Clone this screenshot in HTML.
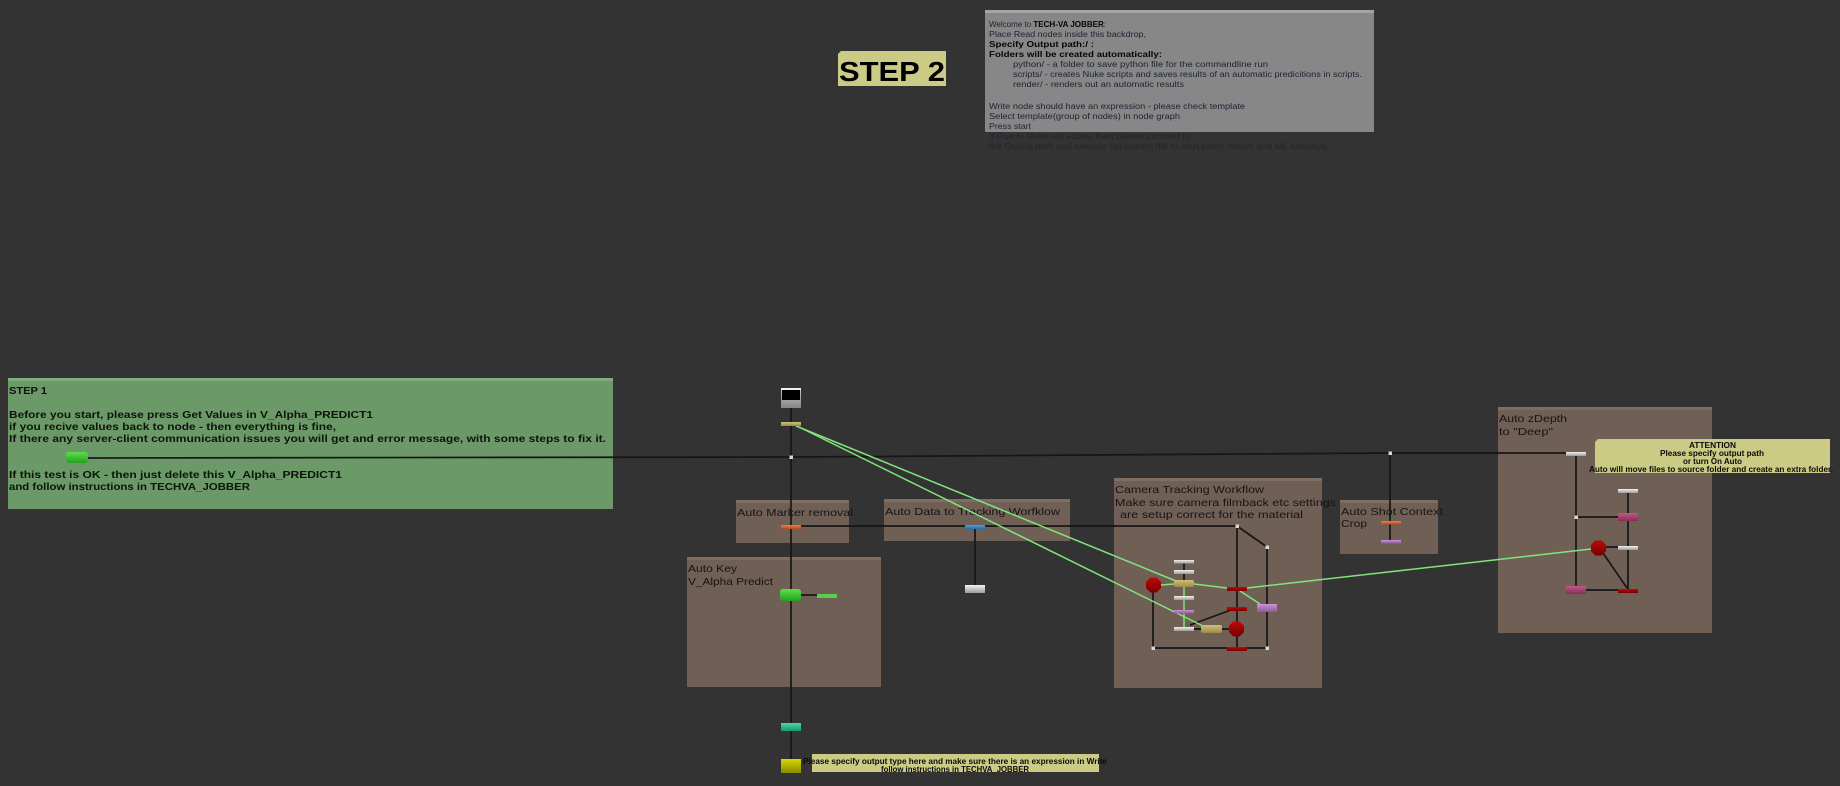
<!DOCTYPE html>
<html><head><meta charset="utf-8"><style>
html,body{margin:0;padding:0;background:#333333;}
svg{display:block;}
.lab{font-family:"Liberation Sans",sans-serif;font-size:10.5px;fill:#161412;}
.gb{font-family:"Liberation Sans",sans-serif;font-size:10.5px;font-weight:bold;fill:#0c140c;}
.gt{font-family:"Liberation Sans",sans-serif;font-size:8.6px;fill:#1c2232;}
.gtd{font-family:"Liberation Sans",sans-serif;font-size:8.6px;fill:#20252e;}
.gtb{font-family:"Liberation Sans",sans-serif;font-size:8.6px;font-weight:bold;fill:#050505;}
.st{font-family:"Liberation Sans",sans-serif;font-size:8px;font-weight:bold;fill:#0a0a0a;}
</style></head><body>
<svg width="1840" height="786" viewBox="0 0 1840 786" xmlns="http://www.w3.org/2000/svg">
<defs>
<linearGradient id="gW" x1="0" y1="0" x2="0" y2="1"><stop offset="0" stop-color="#f2f2f2"/><stop offset="1" stop-color="#9a9a9a"/></linearGradient>
<linearGradient id="gGray" x1="0" y1="0" x2="0" y2="1"><stop offset="0" stop-color="#c8c8c8"/><stop offset="1" stop-color="#858585"/></linearGradient>
<linearGradient id="gTan" x1="0" y1="0" x2="0" y2="1"><stop offset="0" stop-color="#d0c07a"/><stop offset="1" stop-color="#9a8a4a"/></linearGradient>
<linearGradient id="gOr" x1="0" y1="0" x2="0" y2="1"><stop offset="0" stop-color="#f08040"/><stop offset="1" stop-color="#b04c18"/></linearGradient>
<linearGradient id="gGr" x1="0" y1="0" x2="0" y2="1"><stop offset="0" stop-color="#5ce04c"/><stop offset="1" stop-color="#24a020"/></linearGradient>
<linearGradient id="gTeal" x1="0" y1="0" x2="0" y2="1"><stop offset="0" stop-color="#44d8a8"/><stop offset="1" stop-color="#1a9870"/></linearGradient>
<linearGradient id="gY" x1="0" y1="0" x2="0" y2="1"><stop offset="0" stop-color="#d8d800"/><stop offset="1" stop-color="#8a8a00"/></linearGradient>
<linearGradient id="gBl" x1="0" y1="0" x2="0" y2="1"><stop offset="0" stop-color="#4aa0e0"/><stop offset="1" stop-color="#2470b0"/></linearGradient>
<linearGradient id="gRed" x1="0" y1="0" x2="0" y2="1"><stop offset="0" stop-color="#c00808"/><stop offset="1" stop-color="#780000"/></linearGradient>
<linearGradient id="gPur" x1="0" y1="0" x2="0" y2="1"><stop offset="0" stop-color="#c896d8"/><stop offset="1" stop-color="#8a5a9a"/></linearGradient>
<linearGradient id="gPink" x1="0" y1="0" x2="0" y2="1"><stop offset="0" stop-color="#c05888"/><stop offset="1" stop-color="#8a2c58"/></linearGradient>
</defs>

<!-- backdrops -->
<rect x="8" y="378" width="605" height="131" fill="#6b9a68"/>
<rect x="8" y="378" width="605" height="3" fill="#80ad7c"/>

<rect x="985" y="10" width="389" height="122" fill="#878787"/>
<rect x="985" y="10" width="389" height="3" fill="#a4a4a4"/>

<rect x="736" y="500" width="113" height="43" fill="#6f5f54"/>
<rect x="736" y="500" width="113" height="3" fill="#7e6e62"/>
<rect x="884" y="499" width="186" height="42" fill="#6f5f54"/>
<rect x="884" y="499" width="186" height="3" fill="#7e6e62"/>
<rect x="687" y="557" width="194" height="130" fill="#6f5f54"/>
<rect x="687" y="557" width="194" height="3" fill="#7e6e62"/>
<rect x="1114" y="478" width="208" height="210" fill="#6f5f54"/>
<rect x="1114" y="478" width="208" height="3" fill="#7e6e62"/>
<rect x="1340" y="500" width="98" height="54" fill="#6f5f54"/>
<rect x="1340" y="500" width="98" height="3" fill="#7e6e62"/>
<rect x="1498" y="407" width="214" height="226" fill="#6f5f54"/>
<rect x="1498" y="407" width="214" height="3" fill="#7e6e62"/>

<!-- STEP 2 label -->
<polygon points="841,51 946,51 946,86 838,86 838,54" fill="#cbcb85"/>
<text x="839" y="81" font-family="Liberation Sans, sans-serif" font-size="28" font-weight="bold" fill="#000" textLength="106" lengthAdjust="spacingAndGlyphs">STEP 2</text>

<!-- gray box text -->
<text class="gt" x="989" y="27" textLength="117" lengthAdjust="spacingAndGlyphs">Welcome to <tspan class="gtb">TECH-VA JOBBER</tspan>:</text>
<text class="gt" x="989" y="37" textLength="157" lengthAdjust="spacingAndGlyphs">Place Read nodes inside this backdrop,</text>
<text class="gtb" x="989" y="47" textLength="105" lengthAdjust="spacingAndGlyphs">Specify Output path:/ :</text>
<text class="gtb" x="989" y="57" textLength="173" lengthAdjust="spacingAndGlyphs">Folders will be created automatically:</text>
<text class="gt" x="1013" y="67" textLength="255" lengthAdjust="spacingAndGlyphs">python/ - a folder to save python file for the commandline run</text>
<text class="gt" x="1013" y="77" textLength="349" lengthAdjust="spacingAndGlyphs">scripts/ - creates Nuke scripts and saves results of an automatic predicitions in scripts.</text>
<text class="gt" x="1013" y="87" textLength="171" lengthAdjust="spacingAndGlyphs">render/ - renders out an automatic results</text>
<text class="gt" x="989" y="109" textLength="256" lengthAdjust="spacingAndGlyphs">Write node should have an expression - please check template</text>
<text class="gt" x="989" y="119" textLength="191" lengthAdjust="spacingAndGlyphs">Select template(group of nodes) in node graph</text>
<text class="gt" x="989" y="129" textLength="42" lengthAdjust="spacingAndGlyphs">Press start</text>
<text class="gtd" x="989" y="139" textLength="201" lengthAdjust="spacingAndGlyphs">If Run in Nuke not active, than please proceed to</text>
<text class="gtd" x="989" y="149" textLength="340" lengthAdjust="spacingAndGlyphs">the Output path and execute (all.bat/sh) file to start batch render and ML analysys.</text>

<!-- STEP 1 text -->
<text class="gb" x="9" y="394" textLength="38" lengthAdjust="spacingAndGlyphs">STEP 1</text>
<text class="gb" x="9" y="418" textLength="364" lengthAdjust="spacingAndGlyphs">Before you start, please press Get Values in V_Alpha_PREDICT1</text>
<text class="gb" x="9" y="430" textLength="327" lengthAdjust="spacingAndGlyphs">if you recive values back to node - then everything is fine,</text>
<text class="gb" x="9" y="442" textLength="597" lengthAdjust="spacingAndGlyphs">If there any server-client communication issues you will get and error message, with some steps to fix it.</text>
<text class="gb" x="9" y="478" textLength="333" lengthAdjust="spacingAndGlyphs">If this test is OK - then just delete this V_Alpha_PREDICT1</text>
<text class="gb" x="9" y="490" textLength="241" lengthAdjust="spacingAndGlyphs">and follow instructions in TECHVA_JOBBER</text>

<!-- backdrop labels -->
<text class="lab" x="737" y="516" textLength="116" lengthAdjust="spacingAndGlyphs">Auto Marker removal</text>
<text class="lab" x="885" y="515" textLength="175" lengthAdjust="spacingAndGlyphs">Auto Data to Tracking Worfklow</text>
<text class="lab" x="688" y="572" textLength="49" lengthAdjust="spacingAndGlyphs">Auto Key</text>
<text class="lab" x="688" y="585" textLength="85" lengthAdjust="spacingAndGlyphs">V_Alpha Predict</text>
<text class="lab" x="1115" y="493" textLength="149" lengthAdjust="spacingAndGlyphs">Camera Tracking Workflow</text>
<text class="lab" x="1115" y="506" textLength="221" lengthAdjust="spacingAndGlyphs">Make sure camera filmback etc settings</text>
<text class="lab" x="1120" y="518" textLength="183" lengthAdjust="spacingAndGlyphs">are setup correct for the material</text>
<text class="lab" x="1341" y="515" textLength="102" lengthAdjust="spacingAndGlyphs">Auto Shot Context</text>
<text class="lab" x="1341" y="527" textLength="26" lengthAdjust="spacingAndGlyphs">Crop</text>
<text class="lab" x="1499" y="422" textLength="68" lengthAdjust="spacingAndGlyphs">Auto zDepth</text>
<text class="lab" x="1499" y="435" textLength="54" lengthAdjust="spacingAndGlyphs">to "Deep"</text>

<!-- black connectors -->
<g stroke="#161616" stroke-width="1.7" fill="none">
<path d="M88,458 L791,457 L1390,453 L1566,453"/>
<path d="M791,408 V422 M791,426 V525 M791,529 V589 M791,601 V723 M791,731 V759"/>
<path d="M801,526 H1237"/>
<path d="M975,529 V585"/>
<path d="M801,595 H817"/>
<path d="M1390,453 V521 M1390,524 V540"/>
<path d="M1237,526 V587 M1237,591 V607 M1237,611 V622 M1237,636 V647"/>
<path d="M1237,526 L1267,547 V648"/>
<path d="M1153,592 V648 H1227 M1247,648 H1267"/>
<path d="M1184,563 V570 M1184,574 V580"/>
<path d="M1194,629 H1201 M1222,629 H1229"/>
<path d="M1190,625 L1231,610"/>
<path d="M1576,456 V586 M1576,517 H1618 M1628,493 V513 M1628,521 V546 M1628,550 V589 M1606,547 H1618 M1603,553 L1627,588 M1586,590 H1618"/>
</g>

<!-- green connectors -->
<g stroke="#82e47e" stroke-width="1.5" fill="none">
<path d="M796,426 L1176,581"/>
<path d="M799,427 L1203,626"/>
<path d="M1161,585 L1174,584"/>
<path d="M1194,584 L1227,588"/>
<path d="M1247,588 L1591,549"/>
<path d="M1240,591 L1260,604"/>
<path d="M1184,587 V627"/>
</g>

<!-- dots -->
<g fill="#d8d8d8">
<rect x="789.5" y="455.5" width="3.5" height="3.5"/>
<rect x="1388.5" y="451.5" width="3.5" height="3.5"/>
<rect x="1235.5" y="524.5" width="3.5" height="3.5"/>
<rect x="1265.5" y="545.5" width="3.5" height="3.5"/>
<rect x="1151.5" y="646.5" width="3.5" height="3.5"/>
<rect x="1265.5" y="646.5" width="3.5" height="3.5"/>
<rect x="1574.5" y="515.5" width="3.5" height="3.5"/>
</g>

<!-- nodes: main column -->
<rect x="781" y="388" width="20" height="20" fill="url(#gGray)"/>
<rect x="781" y="388" width="20" height="2" fill="#f0f0f0"/>
<rect x="782" y="390" width="18" height="10" fill="#000"/>
<rect x="781" y="422" width="20" height="4" fill="url(#gTan)"/>
<rect x="781" y="525" width="20" height="4" fill="url(#gOr)"/>
<rect x="780" y="589" width="21" height="12" rx="3" fill="url(#gGr)"/>
<rect x="817" y="594" width="20" height="4" fill="#5ccc50"/>
<rect x="781" y="723" width="20" height="8" fill="url(#gTeal)"/>
<rect x="781" y="759" width="20" height="14" fill="url(#gY)"/>
<rect x="965" y="525" width="20" height="4" fill="url(#gBl)"/>
<rect x="965" y="585" width="20" height="8" fill="url(#gW)"/>
<rect x="66" y="452" width="22" height="11" rx="3" fill="url(#gGr)"/>

<!-- camera tracking nodes -->
<rect x="1174" y="560" width="20" height="3.5" fill="url(#gW)"/>
<rect x="1174" y="570" width="20" height="4" fill="url(#gW)"/>
<rect x="1174" y="580" width="20" height="7" rx="2" fill="url(#gTan)"/>
<rect x="1174" y="596" width="20" height="4" fill="url(#gW)"/>
<rect x="1174" y="610" width="20" height="3.5" fill="url(#gPur)"/>
<rect x="1174" y="627" width="20" height="4" fill="url(#gW)"/>
<rect x="1201" y="625" width="21" height="8" rx="2" fill="url(#gTan)"/>
<rect x="1227" y="587" width="20" height="4" fill="url(#gRed)"/>
<rect x="1227" y="607" width="20" height="4" fill="url(#gRed)"/>
<rect x="1227" y="647" width="20" height="4" fill="url(#gRed)"/>
<rect x="1257" y="604" width="20" height="8" fill="url(#gPur)"/>
<polygon points="1150.4,577.5 1156.6,577.5 1161,581.9 1161,588.1 1156.6,592.5 1150.4,592.5 1146,588.1 1146,581.9" fill="url(#gRed)"/>
<polygon points="1233.4,621.5 1239.6,621.5 1244,625.9 1244,632.1 1239.6,636.5 1233.4,636.5 1229,632.1 1229,625.9" fill="url(#gRed)"/>

<!-- auto shot context -->
<rect x="1381" y="521" width="20" height="3.5" fill="url(#gOr)"/>
<rect x="1381" y="540" width="20" height="3.5" fill="url(#gPur)"/>

<!-- zDepth -->
<rect x="1566" y="452" width="20" height="4" fill="url(#gW)"/>
<rect x="1618" y="489" width="20" height="4" fill="url(#gW)"/>
<rect x="1618" y="513" width="20" height="8" fill="url(#gPink)"/>
<rect x="1618" y="546" width="20" height="4" fill="url(#gW)"/>
<rect x="1618" y="589" width="20" height="4" fill="url(#gRed)"/>
<rect x="1566" y="586" width="20" height="8" fill="url(#gPink)"/>
<polygon points="1595.4,540.5 1601.6,540.5 1606,544.9 1606,551.1 1601.6,555.5 1595.4,555.5 1591,551.1 1591,544.9" fill="url(#gRed)"/>

<!-- ATTENTION sticky -->
<polygon points="1598,439 1830,439 1830,473 1595,473 1595,442" fill="#cbcb85"/>
<text class="st" x="1689" y="448" textLength="47" lengthAdjust="spacingAndGlyphs">ATTENTION</text>
<text class="st" x="1660" y="456" textLength="104" lengthAdjust="spacingAndGlyphs">Please specify output path</text>
<text class="st" x="1683" y="464" textLength="59" lengthAdjust="spacingAndGlyphs">or turn On Auto</text>
<text class="st" x="1589" y="472" textLength="244" lengthAdjust="spacingAndGlyphs">Auto will move files to source folder and create an extra folder.</text>

<!-- bottom sticky -->
<rect x="812" y="754" width="287" height="18" fill="#cbcb85"/>
<text class="st" x="803" y="764" textLength="304" lengthAdjust="spacingAndGlyphs">Please specify output type here and make sure there is an expression in Write</text>
<text class="st" x="881" y="772" textLength="148" lengthAdjust="spacingAndGlyphs">follow instructions in TECHVA_JOBBER</text>
</svg>
</body></html>
